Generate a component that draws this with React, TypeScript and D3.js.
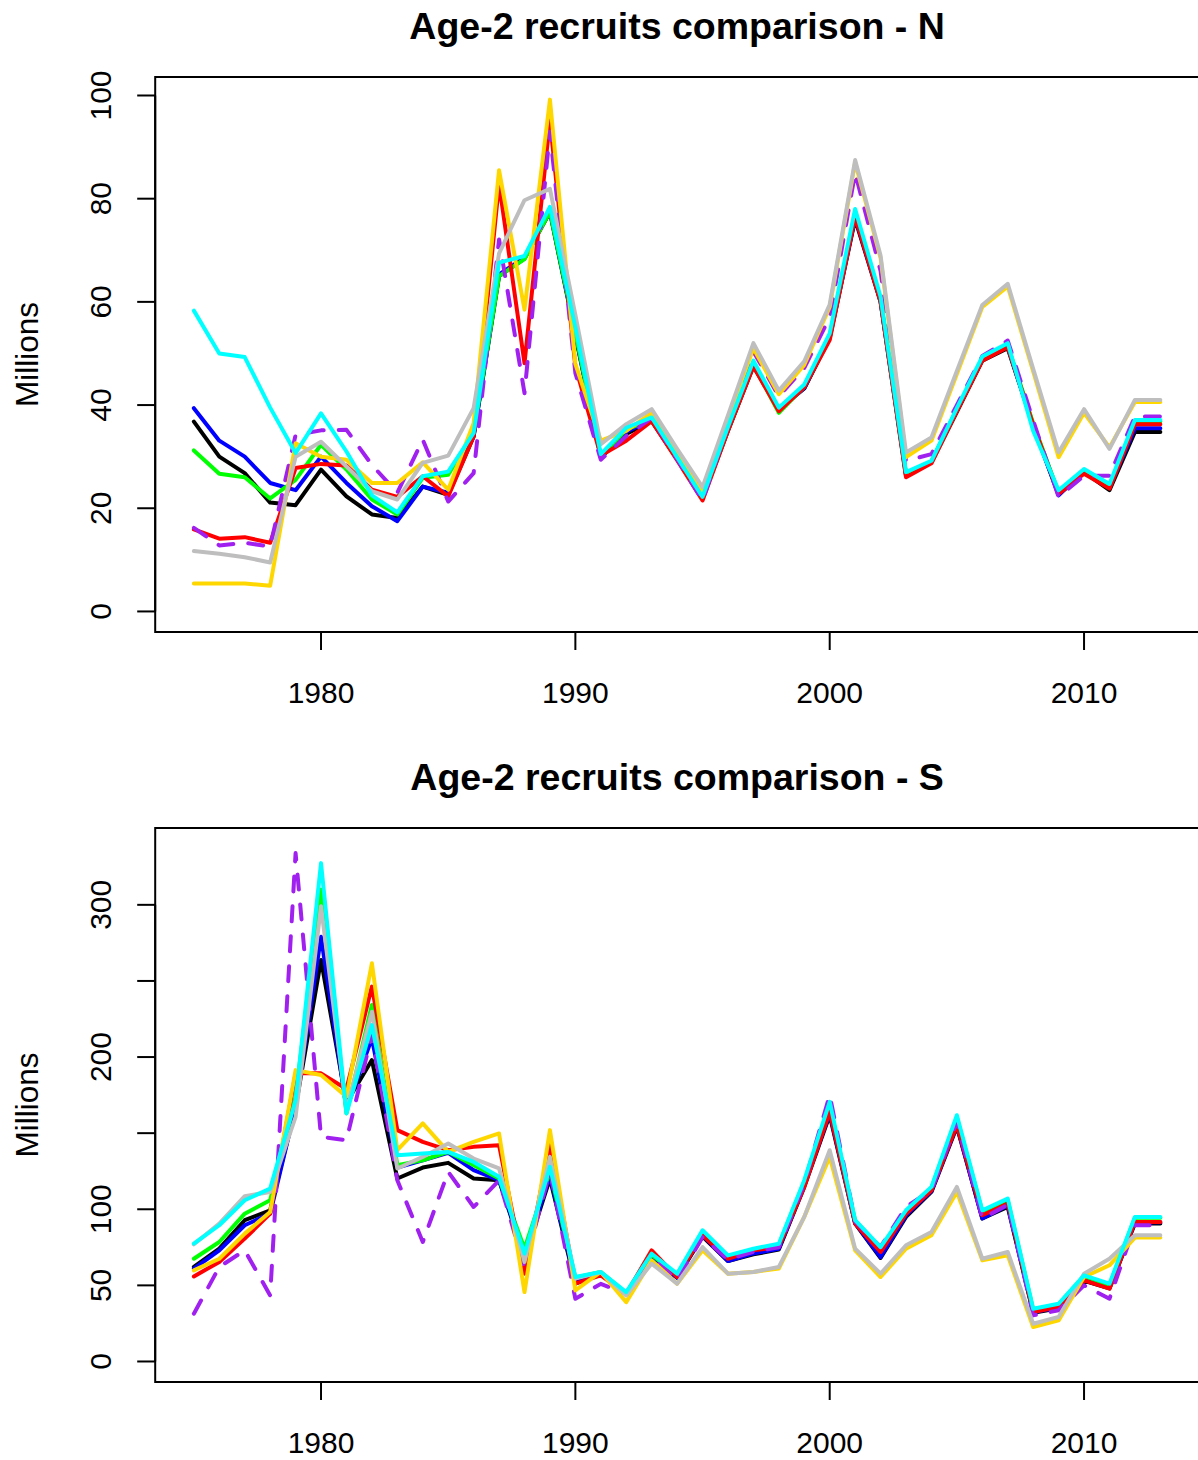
import React from 'react';
import * as d3 from 'd3';

const years = [1975,1976,1977,1978,1979,1980,1981,1982,1983,1984,1985,1986,1987,1988,1989,1990,1991,1992,1993,1994,1995,1996,1997,1998,1999,2000,2001,2002,2003,2004,2005,2006,2007,2008,2009,2010,2011,2012,2013];

// Panel N
const nBlack = [36.8,30.0,26.8,21.1,20.6,27.5,22.3,18.8,18.1,24.2,22.6,33.9,65.0,68.4,77.4,53.5,29.9,34.4,36.9,29.5,22.0,35.0,47.5,39.2,43.2,53.0,76.0,60.0,26.3,28.9,38.7,48.6,51.0,36.0,22.7,27.0,23.5,34.8,34.8];
const nBlue = [39.4,33.1,30.0,24.9,23.5,30.0,24.9,20.4,17.5,24.2,23.0,34.0,65.3,68.6,77.6,53.8,30.0,34.8,37.2,29.7,22.0,35.2,47.8,39.0,43.3,53.2,76.3,60.2,26.6,29.0,39.0,48.8,51.3,36.0,22.5,27.2,24.0,35.5,35.5];
const nGreen = [31.2,26.7,26.0,21.9,25.5,32.3,27.5,21.7,18.8,25.9,26.5,34.6,65.0,68.3,77.5,54.0,29.9,35.3,37.2,29.8,22.1,35.3,47.8,38.5,43.6,53.4,77.0,60.5,26.8,29.1,39.2,49.0,51.5,36.5,23.0,27.4,24.4,36.8,36.8];
const nRed = [15.9,14.1,14.4,13.3,27.8,28.6,28.3,23.6,22.2,26.2,22.3,33.9,82.9,48.1,95.2,47.5,30.2,33.1,36.9,29.3,21.5,35.0,47.5,38.8,43.5,52.6,76.5,60.0,26.0,28.7,38.8,48.6,51.2,36.2,22.8,26.7,23.8,36.3,36.3];
const nPurple = [16.2,12.8,13.3,12.6,34.2,35.1,35.2,28.4,23.0,33.3,21.3,26.8,72.1,42.3,93.0,46.2,29.4,34.0,37.5,29.5,21.5,36.0,50.4,41.7,47.2,57.0,85.0,66.0,29.2,30.5,40.0,49.5,52.5,37.0,22.2,26.3,26.3,37.8,37.8];
const nGold = [5.4,5.4,5.4,5.0,32.6,30.0,29.4,24.9,24.9,28.9,23.6,36.5,85.5,58.5,99.2,48.0,33.1,35.0,38.5,31.0,23.5,37.5,51.0,42.1,47.8,59.0,87.0,68.5,29.9,33.1,46.0,59.0,63.0,46.5,29.9,38.5,31.8,40.6,40.6];
const nGray = [11.7,11.2,10.5,9.5,30.0,32.9,28.1,23.3,21.7,28.8,30.2,39.4,69.4,79.7,81.9,57.5,32.4,36.3,39.2,31.5,24.1,38.0,52.0,42.8,48.5,59.5,87.5,69.0,30.8,33.7,46.6,59.4,63.5,47.0,30.8,39.2,31.5,41.0,41.0];
const nCyan = [58.3,50.0,49.3,39.5,30.7,38.4,31.0,22.5,19.2,26.2,27.1,34.6,67.6,68.9,78.4,55.0,30.5,35.6,37.6,29.9,22.2,35.8,48.6,39.5,44.0,53.9,78.0,61.0,27.0,29.2,39.4,49.4,52.0,35.0,23.5,27.6,24.7,37.1,37.1];

// Panel S
const sBlack = [62.1,74.1,92.8,99.3,167,263.8,170,198,120.2,127.4,130.5,120.2,119.1,68,120.2,51.1,58.0,44.5,67.5,55.0,82.0,66.0,70.4,73.5,114.7,161.8,90.6,68.0,95.0,111.4,154.2,94.0,101.5,32.0,35.0,53.0,48.0,90.6,90.6];
const sBlue = [61.0,73.0,89.5,97.1,167,279,166,212.3,127.4,132.2,137.0,125.7,119.1,70,122,52,58.5,44.5,67.5,55.0,82.9,66.0,71.0,74.0,115.5,163.0,91.0,68.6,96.0,112.0,155.0,93.9,102.5,32.5,35.5,53.5,48.5,91.5,91.5];
const sGreen = [67.5,78.5,97.1,105.9,174,310,163,234.2,129,132.2,137.7,129,120.2,74.1,125,55,58.8,45,70,57,85,69,73.5,76.5,118,168,92.5,74,98.5,114,160,98.5,106,34,37.5,56,50,94.5,94.5];
const sRed = [55.9,65.4,80.7,97.1,189.3,189.3,179,246.3,152,144.3,138.8,141,142.1,57.7,143.2,51.1,56.6,44.5,73.0,55.5,82.9,67.5,73.0,75.2,114.7,164.0,90.6,71.9,97.1,112.5,155.3,96.1,103.7,32.5,35.7,53.3,47.8,91.7,91.7];
const sPurple = [31.4,62.1,73.0,43.4,334,147.6,145.4,215,119,78.5,124.6,101.5,119,62,125,41.2,51,44.5,69,53,81.8,67,72,75,117,175,92,75.2,101.5,112.5,158,93.9,103,30.3,33.6,50.0,41.2,89.5,89.5];
const sGold = [59.9,67.5,84.0,98.2,191.4,188.2,174,261.6,138.8,156.4,137.7,144.3,149.8,45.6,152,46.7,58.8,39.0,66.4,51.1,73.0,57.7,58.8,61.0,95.0,134.4,73.0,55.5,74.1,82.9,111.4,66.4,69.7,22.6,27.0,55.5,63.2,81.4,81.4];
const sGray = [77,90.6,108.6,111.4,160.7,299,165,229.8,126.8,134.4,143.2,133.3,126.8,65.4,134.4,54.4,58.8,43.4,64.3,51.1,75.2,57.7,58.8,62.1,95.0,138.8,74.1,57.7,76.3,85.1,114.7,67.5,71.9,24.8,29.2,57.7,67.5,82.9,82.9];
const sCyan = [77.4,89.5,105.9,113.6,171.7,327.4,163,221,135.5,136.6,137.7,131.1,121.3,70.8,127.9,55.5,58.8,45.6,70.8,57.7,86.2,69.7,74.1,77.4,119.1,170.6,92.8,75.2,99.3,114.7,161.8,99.3,107.0,34.6,37.9,56.6,51.1,95.0,95.0];

const seriesColors = ['#000000', '#0000FF', '#00FF00', '#FF0000', '#A020F0', '#FFD700', '#BEBEBE', '#00FFFF'];
const seriesDashed = [false, false, false, false, true, false, false, false];

const nSeries = [nBlack, nBlue, nGreen, nRed, nPurple, nGold, nGray, nCyan];
const sSeries = [sBlack, sBlue, sGreen, sRed, sPurple, sGold, sGray, sCyan];

const xTicks = [1980, 1990, 2000, 2010];
const nYTicks = [0, 20, 40, 60, 80, 100];
const nYLabels = ['0', '20', '40', '60', '80', '100'];
const sYTicks = [0, 50, 100, 150, 200, 250, 300];
const sYLabels = ['0', '50', '100', '', '200', '', '300'];

const nYlim = [0, 99.6];
const sYlim = [0, 337];

const FONT = '"Liberation Sans", Arial, Helvetica, sans-serif';

function extend(lim: number[]) {
  const r = lim[1] - lim[0];
  return [lim[0] - 0.04 * r, lim[1] + 0.04 * r];
}

function Panel({ boxTop, boxBottom, title, series, ylim, yTicks, yLabels }: any) {
  const boxLeft = 155.2;
  const boxRight = 1199;
  const x = d3.scaleLinear().domain(extend([years[0], years[years.length - 1]])).range([boxLeft, boxRight]);
  const y = d3.scaleLinear().domain(extend(ylim)).range([boxBottom, boxTop]);
  const line = d3.line<number>().x((_, i) => x(years[i])).y((d) => y(d));
  const midY = (boxTop + boxBottom) / 2;
  const midX = (boxLeft + boxRight) / 2;
  return (
    <g>
      <text x={midX} y={boxTop - 38} textAnchor="middle" fontFamily={FONT} fontWeight="bold" fontSize={37.5}>{title}</text>
      <g>
        {series.map((s: number[], i: number) => (
          <path key={i} d={line(s) || ''} fill="none" stroke={seriesColors[i]} strokeWidth={4}
            strokeLinejoin="round" strokeLinecap="round"
            strokeDasharray={seriesDashed[i] ? '15 15' : undefined} />
        ))}
      </g>
      <rect x={boxLeft} y={boxTop} width={boxRight - boxLeft} height={boxBottom - boxTop} fill="none" stroke="#000" strokeWidth={2} />
      <line x1={x(xTicks[0])} x2={x(xTicks[xTicks.length - 1])} y1={boxBottom} y2={boxBottom} stroke="#000" strokeWidth={2} />
      {xTicks.map((t) => (
        <g key={t}>
          <line x1={x(t)} x2={x(t)} y1={boxBottom} y2={boxBottom + 18} stroke="#000" strokeWidth={2} />
          <text x={x(t)} y={boxBottom + 70.5} textAnchor="middle" fontFamily={FONT} fontSize={30}>{t}</text>
        </g>
      ))}
      <line x1={boxLeft} x2={boxLeft} y1={y(yTicks[0])} y2={y(yTicks[yTicks.length - 1])} stroke="#000" strokeWidth={2} />
      {yTicks.map((t: number, i: number) => (
        <g key={t}>
          <line x1={boxLeft} x2={boxLeft - 18} y1={y(t)} y2={y(t)} stroke="#000" strokeWidth={2} />
          {yLabels[i] ? (
            <text transform={`translate(111,${y(t)}) rotate(-90)`} textAnchor="middle" fontFamily={FONT} fontSize={30}>{yLabels[i]}</text>
          ) : null}
        </g>
      ))}
      <text transform={`translate(38,${midY}) rotate(-90)`} textAnchor="middle" fontFamily={FONT} fontSize={31.5}>Millions</text>
    </g>
  );
}

export default function App() {
  return (
    <svg width={1198} height={1460} style={{ position: 'absolute', left: 0, top: 0, background: '#fff' }}>
      <rect x={0} y={0} width={1198} height={1460} fill="#fff" />
      <Panel boxTop={77} boxBottom={632} title="Age-2 recruits comparison - N" series={nSeries} ylim={nYlim} yTicks={nYTicks} yLabels={nYLabels} />
      <Panel boxTop={828} boxBottom={1382} title="Age-2 recruits comparison - S" series={sSeries} ylim={sYlim} yTicks={sYTicks} yLabels={sYLabels} />
    </svg>
  );
}
